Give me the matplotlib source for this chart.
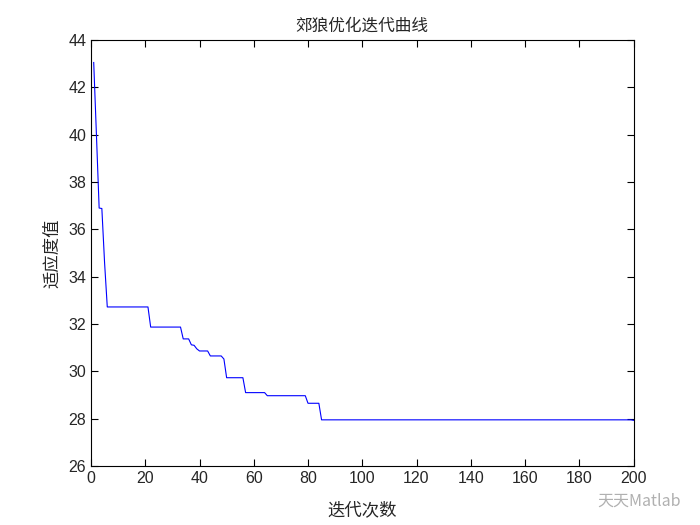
import matplotlib
matplotlib.use('Agg')
import matplotlib.pyplot as plt
import numpy as np

# 迭代次数与适应度值（曲线拐点）
iters = [1, 2, 3, 4, 5, 6, 21, 22, 33, 34, 36, 37, 38, 39, 40, 43, 44, 48, 49, 50,
         56, 57, 64, 65, 79, 80, 84, 85, 199, 200]
fitness = [43.05, 40.0, 36.9, 36.88, 34.6, 32.72, 32.72, 31.87, 31.87, 31.37, 31.37,
           31.12, 31.1, 30.95, 30.86, 30.86, 30.65, 30.65, 30.52, 29.73,
           29.73, 29.1, 29.1, 28.97, 28.97, 28.65, 28.65, 27.95, 27.95, 27.93]

xticks = list(range(0, 201, 20))
yticks = list(range(26, 45, 2))

cjk = ['Noto Sans CJK SC', 'DejaVu Sans']
plt.rcParams['font.family'] = ['Liberation Sans', 'DejaVu Sans']

fig = plt.figure(figsize=(7, 5.25), dpi=100)
ax = fig.add_axes([0.13, 0.1124, 0.775, 0.8114])

ax.plot(iters, fitness, color='#0000ff', linewidth=0.8)

ax.set_xlim(0, 200)
ax.set_ylim(26, 44)
ax.set_xticks(xticks)
ax.set_yticks(yticks)
ax.tick_params(direction='in', top=True, right=True, labelsize=11.5, length=5,
               width=0.8, labelcolor='#262626')
for s in ax.spines.values():
    s.set_linewidth(0.8)

ax.set_title('郊狼优化迭代曲线', family=cjk, fontsize=12, color='#262626', pad=7)
ax.set_xlabel('迭代次数', family=cjk, fontsize=12.5, labelpad=11, color='#262626')
ax.set_ylabel('适应度值', family=cjk, fontsize=12.5, labelpad=5, color='#262626')

# 水印
fig.text(0.972, 0.045, '天天Matlab', family=cjk, fontsize=11.5, color='#b0b0b0',
         ha='right', va='center')

plt.savefig('out.png', dpi=100)
